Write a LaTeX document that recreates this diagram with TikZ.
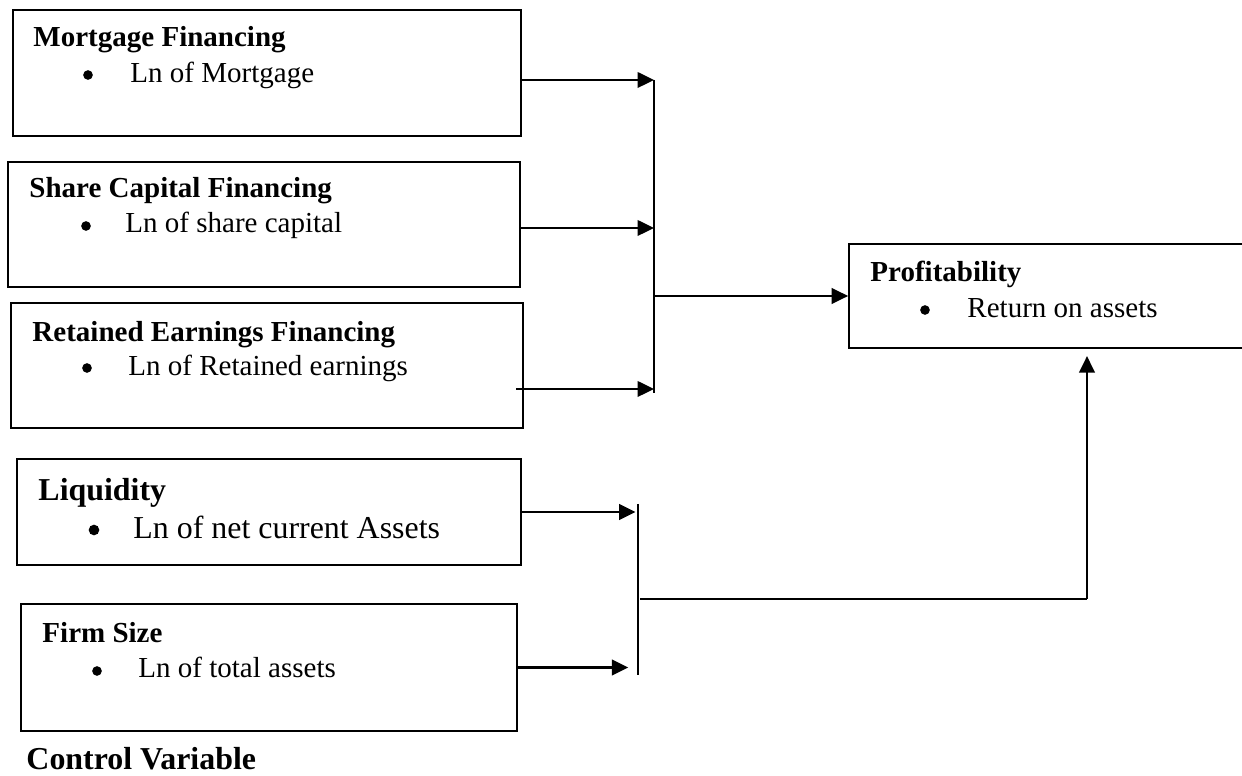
\documentclass[tikz,border=0pt]{standalone}
\usepackage{fontspec}
\setmainfont{Liberation Serif}
\usetikzlibrary{arrows.meta, fit}

\begin{document}
\begin{tikzpicture}[x=0.01454cm, y=-0.01454cm]
	% Styles for boxes, texts and links
	\tikzset{
		varbox/.style={draw, line width=0.7pt, inner sep=0pt},
		head/.style={font=\fontsize{12}{14}\selectfont\bfseries, anchor=base west, inner sep=0pt},
		item/.style={font=\fontsize{12}{14}\selectfont, anchor=base west, inner sep=0pt},
		bighead/.style={head, font=\fontsize{13.2}{15}\selectfont\bfseries},
		bigitem/.style={item, font=\fontsize{13.2}{15}\selectfont},
		dot/.style={circle, fill, inner sep=0pt, minimum size=4pt},
		bigdot/.style={dot, minimum size=4.4pt},
		link/.style={line width=1pt, -{Triangle[length=6.8pt, width=6.4pt]}},
		bar/.style={line width=0.8pt},
	}
	\useasboundingbox (0,0) rectangle (1242,776);
	
	% Financing variables
	\node[varbox, fit={(13,10) (521,136)}]  (mort)   {};
	\node[varbox, fit={(8,162) (520,287)}]  (share)  {};
	\node[varbox, fit={(11,303) (523,428)}] (retain) {};
	
	% Control variables
	\node[varbox, fit={(17,459) (521,565)}] (liquid) {};
	\node[varbox, fit={(21,604) (517,731)}] (size)   {};
	
	% Dependent variable
	\node[varbox, fit={(849,244) (1250,348)}] (profit) {};
	
	% Texts in the boxes
	\node[head] (morthead) at (33,47) {Mortgage Financing};
	\node[dot]  (mortdot)  at (88,75) {};
	\node[item] (morttxt)  at (130,83) {Ln of Mortgage};
	
	\node[head] (sharehead) at (29,198) {Share Capital Financing};
	\node[dot]  (sharedot)  at (86,226) {};
	\node[item] (sharetxt)  at (125,233) {Ln of share capital};
	
	\node[head] (retainhead) at (32,342) {Retained Earnings Financing};
	\node[dot]  (retaindot)  at (87,368) {};
	\node[item] (retaintxt)  at (128,376) {Ln of Retained earnings};
	
	\node[bighead] (liquidhead) at (38,501) {Liquidity};
	\node[bigdot]  (liquiddot)  at (94,530) {};
	\node[bigitem] (liquidtxt)  at (133,539) {Ln of net current Assets};
	
	\node[head] (sizehead) at (42,643) {Firm Size};
	\node[dot]  (sizedot)  at (97,671) {};
	\node[item] (sizetxt)  at (138,678) {Ln of total assets};
	
	\node[head] (profithead) at (870,282) {Profitability};
	\node[dot]  (profitdot)  at (925,310) {};
	\node[item] (profittxt)  at (967,318) {Return on assets};
	
	\node[bighead] (ctrl) at (26,770) {Control Variable};
	
	% Junction bars
	\coordinate (topbar)    at (654,80);
	\coordinate (topbarend) at (654,393);
	\coordinate (lowbar)    at (638,504);
	\coordinate (lowbarend) at (638,675);
	\coordinate (rstart)    at (516,389);
	\coordinate (elbow)     at (1087,599);
	
	\draw[bar] (topbar) -- (topbarend);
	\draw[bar] (lowbar) -- (lowbarend);
	
	% Arrows
	\draw[link] (mort.east |- topbar) -- (topbar);
	\draw[link] (share.east |- 0,228) -- (topbar |- 0,228);
	\draw[link] (rstart) -- (topbar |- rstart);
	\draw[link] (topbar |- profit.west) -- (profit.west);
	
	\draw[link] (liquid.east) -- ([xshift=-1pt]lowbar |- liquid.east);
	\draw[link] (size.east) -- ([xshift=-4pt]lowbar |- size.east);
	\draw[line width=1pt] ([xshift=1pt]lowbar |- elbow) -- (elbow);
	\draw[link] (elbow) -- ([yshift=-3pt]elbow |- profit.south);
\end{tikzpicture}
\end{document}
